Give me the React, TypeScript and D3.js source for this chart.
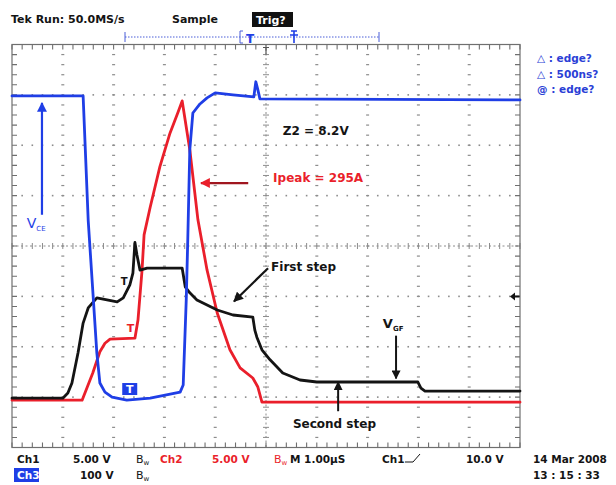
import React, { useEffect, useRef } from 'react';
import * as d3 from 'd3';

// traces
// each point: [time in µs from left edge of screen, level in divisions above bottom edge]
const ch1Gate: [number, number][] = [
  [0, 0.98], [1.0, 0.98], [1.1, 1.08], [1.18, 1.28], [1.3, 1.88], [1.4, 2.47], [1.5, 2.77],
  [1.67, 2.97], [1.87, 2.93], [2.07, 2.89], [2.19, 2.97], [2.32, 3.23], [2.38, 3.46],
  [2.42, 4.07], [2.46, 3.82], [2.52, 3.52], [2.66, 3.56], [3.35, 3.56], [3.41, 3.19],
  [3.5, 3.07], [3.64, 2.93], [4.04, 2.73], [4.35, 2.63], [4.74, 2.59], [4.78, 2.33],
  [4.82, 2.19], [4.92, 1.94], [5.08, 1.74], [5.33, 1.48], [5.67, 1.34], [6.0, 1.3],
  [7.99, 1.3], [8.05, 1.18], [8.13, 1.12], [10, 1.12],
];

const ch2Current: [number, number][] = [
  [0, 0.94], [1.38, 0.94], [1.59, 1.48], [1.73, 1.9], [1.83, 2.07], [1.93, 2.15], [2.42, 2.17],
  [2.48, 2.53], [2.56, 3.52], [2.6, 4.22], [2.72, 4.77], [2.91, 5.57], [3.11, 6.24],
  [3.27, 6.66], [3.35, 6.88], [3.5, 5.91], [3.66, 4.52], [3.84, 3.52], [4.04, 2.67],
  [4.29, 1.94], [4.49, 1.58], [4.74, 1.38], [4.84, 1.2], [4.92, 0.9], [10, 0.9],
];

const ch3Vce: [number, number][] = [
  [0, 6.98], [1.4, 6.98], [1.5, 4.51], [1.67, 1.88], [1.73, 1.28], [1.83, 1.1], [1.97, 1.0],
  [2.26, 0.94], [2.72, 0.98], [3.31, 1.1], [3.37, 1.24], [3.43, 2.93], [3.46, 4.12],
  [3.5, 5.91], [3.56, 6.64], [3.7, 6.82], [3.84, 6.94], [4.0, 7.04], [4.35, 7.0],
  [4.76, 6.96], [4.8, 7.26], [4.84, 7.1], [4.88, 6.92], [10, 6.9],
];

const triggerNotes = ['△ : edge?', '△ : 500ns?', '@ : edge?'];

const BLUE = '#1f3ee6';
const RED = '#ea1f2b';
const BLACK = '#141414';
const GRID = '#8c8c8c';
const FONT = '"DejaVu Sans", sans-serif';

function App() {
  const ref = useRef<SVGSVGElement>(null);

  useEffect(() => {
    const svg = d3.select(ref.current);
    svg.selectAll('*').remove();

    const left = 12, right = 520, top = 44.5, bottom = 447.5;
    const x = d3.scaleLinear().domain([0, 10]).range([left, right]);
    const y = d3.scaleLinear().domain([0, 8]).range([bottom, top]);

    const defs = svg.append('defs');
    const mk = (id: string, color: string) =>
      defs.append('marker')
        .attr('id', id).attr('viewBox', '0 0 10 10').attr('refX', 9).attr('refY', 5)
        .attr('markerWidth', 4.5).attr('markerHeight', 4.5).attr('orient', 'auto-start-reverse')
        .append('path').attr('d', 'M0,0 L10,5 L0,10 z').attr('fill', color);
    mk('ah-black', BLACK);
    mk('ah-red', RED);
    mk('ah-blue', BLUE);

    // graticule
    const grid = svg.append('g');
    const minorX = d3.range(0, 10.0001, 0.2);
    const minorY = d3.range(0, 8.0001, 0.2);

    // dotted division lines
    [1, 2, 3, 4, 6, 7, 8, 9].forEach(i => {
      grid.selectAll(null).data(minorY.slice(1, -1)).enter().append('rect')
        .attr('x', x(i) - 1.5).attr('y', d => y(d) - 0.6).attr('width', 3).attr('height', 1.2)
        .attr('fill', GRID);
    });
    [1, 2, 3, 5, 6, 7].forEach(j => {
      grid.selectAll(null).data(minorX.slice(1, -1)).enter().append('rect')
        .attr('x', d => x(d) - 0.8).attr('y', y(j) - 0.8).attr('width', 1.6).attr('height', 1.6)
        .attr('fill', GRID);
    });

    // centre axes with minor ticks
    grid.append('line').attr('x1', left).attr('x2', right).attr('y1', y(4)).attr('y2', y(4))
      .attr('stroke', GRID).attr('stroke-width', 1).attr('stroke-dasharray', '2,2.5');
    grid.append('line').attr('x1', x(5)).attr('x2', x(5)).attr('y1', top).attr('y2', bottom)
      .attr('stroke', GRID).attr('stroke-width', 1).attr('stroke-dasharray', '2,2.5');
    grid.selectAll(null).data(minorX).enter().append('line')
      .attr('x1', d => x(d)).attr('x2', d => x(d)).attr('y1', y(4) - 3).attr('y2', y(4) + 3)
      .attr('stroke', GRID).attr('stroke-width', 1);
    grid.selectAll(null).data(minorY).enter().append('line')
      .attr('y1', d => y(d)).attr('y2', d => y(d)).attr('x1', x(5) - 3).attr('x2', x(5) + 3)
      .attr('stroke', GRID).attr('stroke-width', 1);

    // frame and edge ticks
    grid.append('rect').attr('x', left).attr('y', top).attr('width', right - left).attr('height', bottom - top)
      .attr('fill', 'none').attr('stroke', '#6f6f6f').attr('stroke-width', 1.2);
    grid.selectAll(null).data(minorX).enter().append('path')
      .attr('d', d => `M${x(d)},${top}v5M${x(d)},${bottom}v-5`)
      .attr('stroke', '#6f6f6f').attr('stroke-width', 1.1);
    grid.selectAll(null).data(minorY).enter().append('path')
      .attr('d', d => `M${left},${y(d)}h5M${right},${y(d)}h-5`)
      .attr('stroke', '#6f6f6f').attr('stroke-width', 1.1);

    // trigger position mark on the top edge
    grid.append('path').attr('d', `M${x(5) - 3},${top + 3}h6M${x(5)},${top + 3}v7`)
      .attr('stroke', '#555').attr('stroke-width', 1.2);

    // traces
    const line = d3.line<[number, number]>().x(d => x(d[0])).y(d => y(d[1]));
    const traces: [[number, number][], string][] = [
      [ch2Current, RED], [ch1Gate, BLACK], [ch3Vce, BLUE],
    ];
    traces.forEach(([pts, color]) => {
      svg.append('path').attr('d', line(pts)).attr('fill', 'none')
        .attr('stroke', color).attr('stroke-width', 2.8)
        .attr('stroke-linejoin', 'round').attr('stroke-linecap', 'round');
    });

    // channel markers
    svg.append('text').attr('x', x(2.14)).attr('y', y(3.22)).attr('fill', BLACK)
      .attr('font-family', FONT).attr('font-weight', 'bold').attr('font-size', 10).text('T');
    svg.append('text').attr('x', x(2.26)).attr('y', y(2.3)).attr('fill', RED)
      .attr('font-family', FONT).attr('font-weight', 'bold').attr('font-size', 11).text('T');
    svg.append('rect').attr('x', x(2.17)).attr('y', y(1.28)).attr('width', 15).attr('height', 12)
      .attr('fill', BLUE);
    svg.append('text').attr('x', x(2.17) + 7.5).attr('y', y(1.28) + 10).attr('text-anchor', 'middle')
      .attr('fill', '#fff').attr('font-family', FONT).attr('font-weight', 'bold').attr('font-size', 11).text('T');

    // level marker on the right edge
    svg.append('path')
      .attr('d', `M${right - 10},${y(3)} l5,-4 v3 h4.5 v2 h-4.5 v3 z`)
      .attr('fill', BLACK);

    // annotations
    const bold = (tx: number, ty: number, s: string, color: string, size = 12) =>
      svg.append('text').attr('x', tx).attr('y', ty).attr('fill', color)
        .attr('font-family', FONT).attr('font-weight', 'bold').attr('font-size', size).text(s);

    bold(x(5.33), y(6.2), 'Z2 = 8.2V', BLACK);
    bold(x(5.14), y(5.27), 'Ipeak = 295A', RED);
    svg.append('line').attr('x1', x(4.65)).attr('y1', y(5.25)).attr('x2', x(3.72)).attr('y2', y(5.25))
      .attr('stroke', '#a0161f').attr('stroke-width', 2.2).attr('marker-end', 'url(#ah-red)');

    bold(x(5.1), y(3.5), 'First step', BLACK, 12);
    svg.append('line').attr('x1', x(5.04)).attr('y1', y(3.56)).attr('x2', x(4.37)).attr('y2', y(2.9))
      .attr('stroke', BLACK).attr('stroke-width', 2.2).attr('marker-end', 'url(#ah-black)');

    const vgf = svg.append('text').attr('x', x(7.3)).attr('y', y(2.38)).attr('fill', BLACK)
      .attr('font-family', FONT).attr('font-weight', 'bold').attr('font-size', 13);
    vgf.append('tspan').text('V');
    vgf.append('tspan').attr('font-size', 7).attr('dy', 3).text('GF');
    svg.append('line').attr('x1', x(7.56)).attr('y1', y(2.22)).attr('x2', x(7.56)).attr('y2', y(1.37))
      .attr('stroke', BLACK).attr('stroke-width', 2).attr('marker-end', 'url(#ah-black)');

    bold(x(5.53), y(0.38), 'Second step', BLACK, 12);
    svg.append('line').attr('x1', x(6.42)).attr('y1', y(0.72)).attr('x2', x(6.42)).attr('y2', y(1.3))
      .attr('stroke', BLACK).attr('stroke-width', 2).attr('marker-end', 'url(#ah-black)');

    svg.append('line').attr('x1', x(0.59)).attr('y1', y(4.62)).attr('x2', x(0.59)).attr('y2', y(6.84))
      .attr('stroke', BLUE).attr('stroke-width', 2.2).attr('marker-end', 'url(#ah-blue)');
    const vce = svg.append('text').attr('x', x(0.29)).attr('y', y(4.36)).attr('fill', BLUE)
      .attr('font-family', FONT).attr('font-size', 14);
    vce.append('tspan').text('V');
    vce.append('tspan').attr('font-size', 7).attr('dy', 3).text('CE');

    // header
    bold(11, 23, 'Tek Run: 50.0MS/s', BLACK, 11);
    bold(172, 23, 'Sample', BLACK, 11);
    svg.append('rect').attr('x', 252).attr('y', 12).attr('width', 41).attr('height', 15).attr('fill', '#111');
    bold(256, 24, 'Trig?', '#fff', 11);

    // record view bar
    svg.append('line').attr('x1', 125).attr('x2', 379).attr('y1', 37).attr('y2', 37)
      .attr('stroke', '#4a5ed8').attr('stroke-width', 1).attr('stroke-dasharray', '1.5,1.5');
    svg.append('path').attr('d', 'M125,32v10M379,32v10M243,31h-3v12h3')
      .attr('stroke', '#4a5ed8').attr('stroke-width', 1).attr('fill', 'none');
    bold(246, 43, 'T', BLUE, 12);
    svg.append('path').attr('d', 'M291,31h6M294,31v12M290,35h8')
      .attr('stroke', BLUE).attr('stroke-width', 1.6).attr('fill', 'none');

    // trigger notes on the right
    svg.selectAll(null).data(triggerNotes).enter().append('text')
      .attr('x', 537).attr('y', (_, i) => 62 + i * 15.5)
      .attr('fill', '#2b3fd6').attr('font-family', FONT).attr('font-weight', 'bold').attr('font-size', 10.5)
      .text(d => d);

    // status line
    const status = (tx: number, ty: number, s: string, color: string) =>
      svg.append('text').attr('x', tx).attr('y', ty).attr('fill', color)
        .attr('font-family', FONT).attr('font-weight', 'bold').attr('font-size', 10.5).text(s);
    const bw = (tx: number, ty: number, color: string) => {
      const t = svg.append('text').attr('x', tx).attr('y', ty).attr('fill', color)
        .attr('font-family', FONT).attr('font-size', 11);
      t.append('tspan').text('B');
      t.append('tspan').attr('font-size', 7).attr('dy', 2).text('w');
    };
    const r1 = 463, r2 = 479;
    status(17, r1, 'Ch1', BLACK);
    status(73, r1, '5.00 V', BLACK);
    bw(136, r1, BLACK);
    status(160, r1, 'Ch2', RED);
    status(212, r1, '5.00 V', RED);
    bw(274, r1, RED);
    status(290, r1, 'M 1.00µS', BLACK);
    status(382, r1, 'Ch1', BLACK);
    svg.append('path').attr('d', `M405,${r1 - 1}h8l7,-8`).attr('stroke', BLACK).attr('stroke-width', 1).attr('fill', 'none');
    status(466, r1, '10.0 V', BLACK);
    status(533, r1, '14 Mar 2008', BLACK);

    svg.append('rect').attr('x', 14).attr('y', r2 - 11).attr('width', 25).attr('height', 14).attr('fill', BLUE);
    status(17, r2, 'Ch3', '#fff');
    status(80, r2, '100 V', BLACK);
    bw(136, r2, BLACK);
    status(533, r2, '13 : 15 : 33', BLACK);
  }, []);

  return (
    <svg ref={ref} width={616} height={485}
      style={{ position: 'absolute', left: 0, top: 0, background: '#fff' }} />
  );
}

export default App;
